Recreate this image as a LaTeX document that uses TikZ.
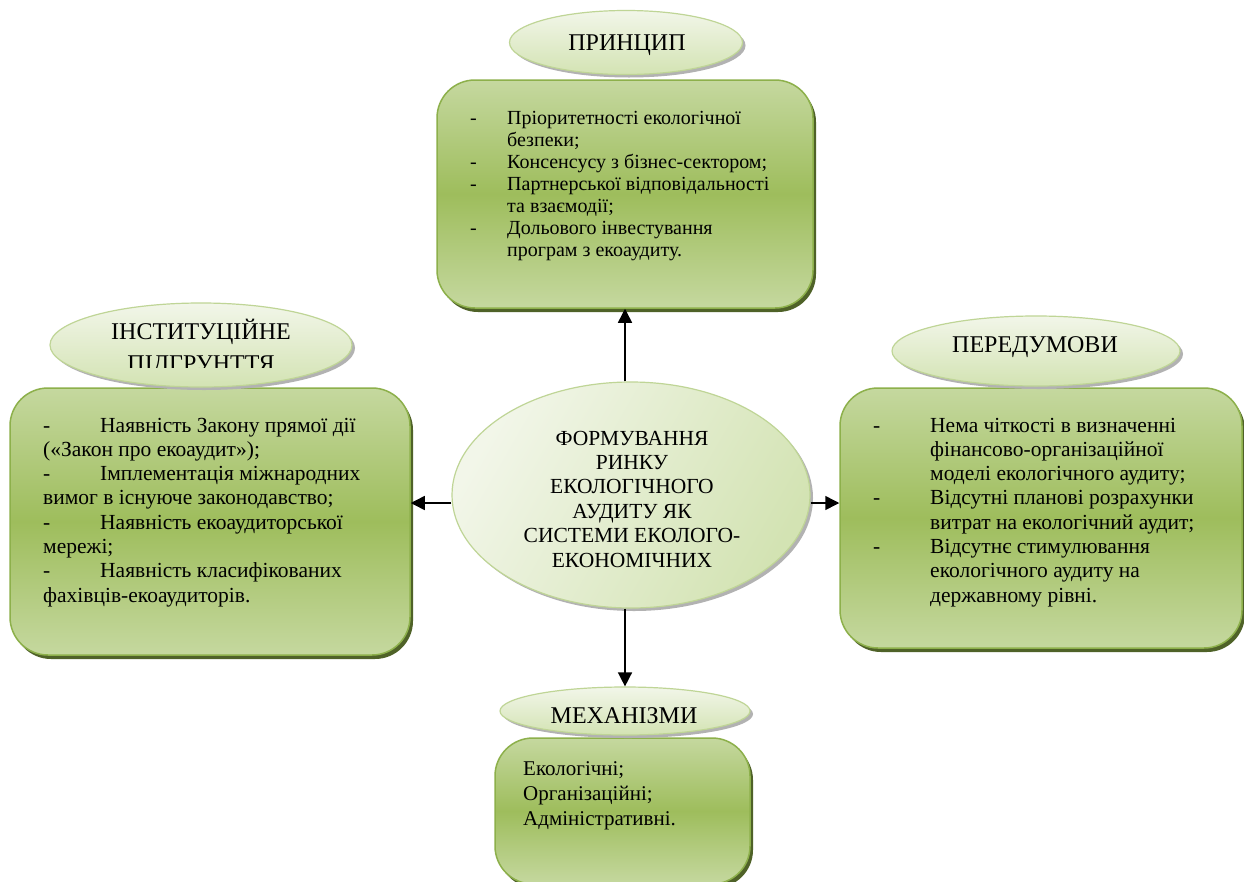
\documentclass[tikz,border=0pt]{standalone}
\usepackage{fontspec}
\setmainfont{Liberation Serif}
\usetikzlibrary{shapes.geometric,shadows,arrows.meta}
\definecolor{boxtop}{HTML}{C5D89F}
\definecolor{boxmid}{HTML}{9EBD5C}
\definecolor{boxedge}{HTML}{8DB04B}
\definecolor{boxshadow}{HTML}{4F6228}
\definecolor{elltop}{HTML}{F2F6E9}
\definecolor{ellbot}{HTML}{D3E3B3}
\definecolor{elledge}{HTML}{BFD596}
\tikzset{
  greenbox/.style={draw=boxedge, line width=1.5pt, rounded corners=38pt, inner sep=0pt,
    top color=boxtop, bottom color=boxtop, middle color=boxmid,
    drop shadow={shadow xshift=3pt, shadow yshift=-4pt, fill=boxshadow, opacity=1}},
  ovalbox/.style={ellipse, draw=elledge, line width=1.2pt, inner sep=0pt,
    top color=elltop, bottom color=ellbot,
    drop shadow={shadow xshift=3pt, shadow yshift=-3pt, fill=gray!60, opacity=1}},
  bigoval/.style={ellipse, draw=elledge, line width=1.2pt, inner sep=0pt,
    left color=elltop, right color=ellbot, shading angle=60,
    drop shadow={shadow xshift=3pt, shadow yshift=-3pt, fill=gray!60, opacity=1}},
  txt/.style={inner sep=0pt, anchor=base west},
  ctxt/.style={inner sep=0pt, anchor=base},
  arr/.style={line width=1.5pt, -{Triangle[length=14pt,width=14pt]}}
}
\newcommand\bodyA{\fontsize{20}{22}\selectfont}
\newcommand\bodyB{\fontsize{21.5}{24.3}\selectfont}
\newcommand\titlef{\fontsize{24}{32}\selectfont}
\begin{document}
\begin{tikzpicture}[x=1pt,y=-1pt]
\useasboundingbox[fill=white] (0,0) rectangle (1244,881);

% boxes
\node[greenbox, minimum width=376pt, minimum height=228pt] (topbox) at (625,194) {};
\node[greenbox, minimum width=400pt, minimum height=267pt] (leftbox) at (210,521.5) {};
\node[greenbox, minimum width=402pt, minimum height=260pt] (rightbox) at (1041,518) {};
\node[greenbox, minimum width=255pt, minimum height=146pt] (botbox) at (622.5,811) {};

% ovals
\node[ovalbox, minimum width=233pt, minimum height=64pt] (topell) at (626,42.5) {};
\node[ovalbox, minimum width=302pt, minimum height=84pt] (leftell) at (201,345) {};
\node[ovalbox, minimum width=288pt, minimum height=70pt] (rightell) at (1036,351) {};
\node[ovalbox, minimum width=250pt, minimum height=48pt] (botell) at (625,711) {};
\node[bigoval, minimum width=358pt, minimum height=226pt] (center) at (631,495) {};

% titles
\node[ctxt] (t1) at (627,50) {\titlef ПРИНЦИП};
\begin{scope}
  \clip (40,290) rectangle (362,367.3);
  \node[ctxt] (t2) at (201,339) {\titlef\begin{tabular}[t]{@{}c@{}}ІНСТИТУЦІЙНЕ\\ ПІДГРУНТТЯ\end{tabular}};
\end{scope}
\node[ctxt] (t3) at (1035,352) {\titlef ПЕРЕДУМОВИ};
\node[ctxt] (t4) at (624,723) {\titlef МЕХАНІЗМИ};

% center text
\node[ctxt] (ctext) at (632,445) {\fontsize{21.5}{24.4}\selectfont\begin{tabular}[t]{@{}c@{}}
ФОРМУВАННЯ\\ РИНКУ\\ ЕКОЛОГІЧНОГО\\ АУДИТУ ЯК\\ СИСТЕМИ ЕКОЛОГО-\\ ЕКОНОМІЧНИХ\end{tabular}};

% top box text
\node[txt] (toptext) at (470,124) {\bodyA\begin{tabular}[t]{@{}p{37pt}@{}l@{}}
- & Пріоритетності екологічної\\
  & безпеки;\\
- & Консенсусу з бізнес-сектором;\\
- & Партнерської відповідальності\\
  & та взаємодії;\\
- & Дольового інвестування\\
  & програм з екоаудиту.
\end{tabular}};

% left box text
\node[txt] (lefttext) at (43,432) {\bodyB\begin{tabular}[t]{@{}l@{}}
\makebox[57pt][l]{-}Наявність Закону прямої дії\\
(«Закон про екоаудит»);\\
\makebox[57pt][l]{-}Імплементація міжнародних\\
вимог в існуюче законодавство;\\
\makebox[57pt][l]{-}Наявність екоаудиторської\\
мережі;\\
\makebox[57pt][l]{-}Наявність класифікованих\\
фахівців-екоаудиторів.
\end{tabular}};

% right box text
\node[txt] (righttext) at (873,432) {\bodyB\begin{tabular}[t]{@{}p{57pt}@{}l@{}}
- & Нема чіткості в визначенні\\
  & фінансово-організаційної\\
  & моделі екологічного аудиту;\\
- & Відсутні планові розрахунки\\
  & витрат на екологічний аудит;\\
- & Відсутнє стимулювання\\
  & екологічного аудиту на\\
  & державному рівні.
\end{tabular}};

% bottom box text
\node[txt] (bottext) at (523,775) {\fontsize{21}{25}\selectfont\begin{tabular}[t]{@{}l@{}}
Екологічні;\\ Організаційні;\\ Адміністративні.
\end{tabular}};

% arrows
\draw[arr] (center.north -| topbox.south) -- (topbox.south);
\coordinate (lh) at ([yshift=-8pt]center.west);
\coordinate (rh) at ([yshift=-8pt]center.east);
\draw[arr] (lh) -- (lh -| leftbox.east);
\draw[arr] (rh) -- (rh -| rightbox.west);
\draw[arr] (center.south -| botell.north) -- (botell.north);
\end{tikzpicture}
\end{document}
